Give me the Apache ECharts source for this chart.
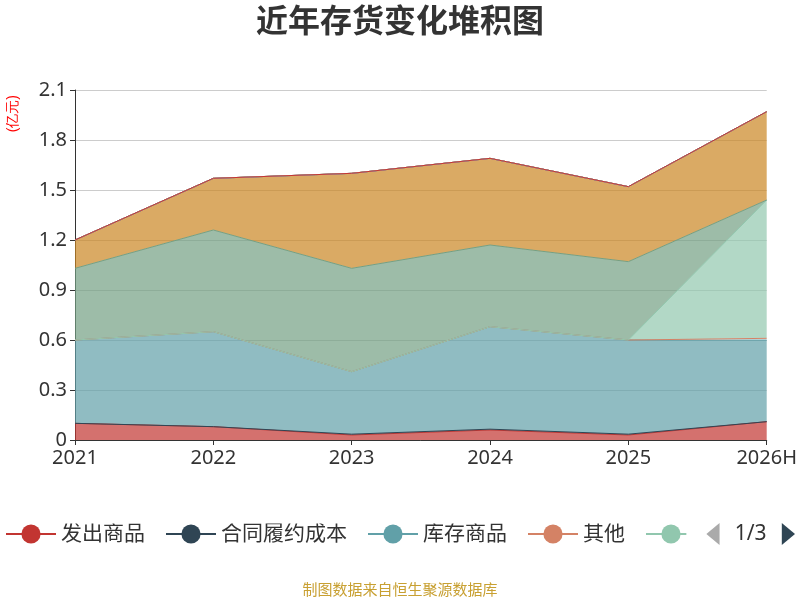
<!DOCTYPE html>
<html>
<head>
<meta charset="UTF-8">
<script src="https://cdn.jsdelivr.net/npm/echarts@6/dist/echarts.min.js"></script>
<style>html,body{margin:0;padding:0}#main{width:800px;height:600px}</style>
</head>
<body>
<div id="main"></div>
<script>
var years = ['2021', '2022', '2023', '2024', '2025', '2026H'];
var names = ['发出商品', '合同履约成本', '库存商品', '其他', '原材料', '在产品', '周转材料', '委托加工物资', '半成品', '低值易耗品', '包装物', '自制半成品'];
var fachu = [0.10, 0.08, 0.03, 0.06, 0.03, 0.11];
var hetong = [0, 0, 0.005, 0.005, 0.005, 0];
var kucun = [0.50, 0.57, 0.375, 0.615, 0.565, 0.49];
var qita = [0, 0, 0, 0, 0, 0.01];
var yuancl = [0, 0, 0, 0, 0, 0.83];
var zaichan = [0.43, 0.61, 0.62, 0.49, 0.47, 0];
var zhouzhuan = [0.17, 0.31, 0.57, 0.52, 0.45, 0.53];
var weituo = [0, 0, 0, 0, 0, 0];
var banchp = [0, 0, 0, 0, 0, 0];
var dizhi = [0, 0, 0, 0, 0, 0];
var baozhuang = [0, 0, 0, 0, 0, 0];
var zizhi = [0, 0, 0, 0, 0, 0];
var values = [fachu, hetong, kucun, qita, yuancl, zaichan, zhouzhuan, weituo, banchp, dizhi, baozhuang, zizhi];

var chart = echarts.init(document.getElementById('main'));
var series = [];
for (var i = 0; i < names.length; i++) {
  series.push({
    name: names[i],
    type: 'line',
    stack: 'total',
    symbol: 'circle',
    showSymbol: false,
    lineStyle: { width: 1 },
    areaStyle: { opacity: 0.7 },
    data: values[i]
  });
}
chart.setOption({
  textStyle: { fontFamily: 'Noto Sans, Noto Sans CJK SC, sans-serif' },
  color: ['#c23531', '#2f4554', '#61a0a8', '#d48265', '#91c7ae', '#749f83', '#ca8622', '#bda29a', '#6e7074', '#546570', '#c4ccd3', '#c23531'],
  title: [{
    text: '近年存货变化堆积图', left: 'center', top: 2,
    textStyle: { fontSize: 32, fontWeight: 'bold', color: '#333' }
  }, {
    text: '制图数据来自恒生聚源数据库', left: 'center', top: 578,
    textStyle: { fontSize: 15, fontWeight: 'normal', color: '#c8a032' }
  }],
  graphic: [{
    type: 'text', left: 6, top: 95, rotation: Math.PI / 2,
    style: { text: '(亿元)', fill: 'red', fontSize: 14 }
  }],
  legend: {
    type: 'scroll', bottom: 50, left: 0, right: 0,
    itemWidth: 50, itemHeight: 24, itemGap: 20,
    textStyle: { fontSize: 21, color: '#333' },
    pageTextStyle: { fontSize: 21, color: '#333' },
    pageIconSize: 22,
    pageIconColor: '#2f4554', pageIconInactiveColor: '#aaa',
    data: names
  },
  grid: { left: 75, right: 32, top: 90, bottom: 160 },
  xAxis: {
    type: 'category', boundaryGap: false, data: years,
    axisLine: { lineStyle: { color: '#333' } },
    axisTick: { show: true },
    axisLabel: { fontSize: 20, color: '#333' }
  },
  yAxis: {
    type: 'value', min: 0, max: 2.1, interval: 0.3,
    axisLine: { show: true, lineStyle: { color: '#333' } },
    axisTick: { show: true },
    axisLabel: { fontSize: 20, color: '#333', formatter: function (v) { return v === 0 ? '0' : v.toFixed(1); } },
    splitLine: { lineStyle: { color: '#ccc' } }
  },
  series: series
});
</script>
</body>
</html>
